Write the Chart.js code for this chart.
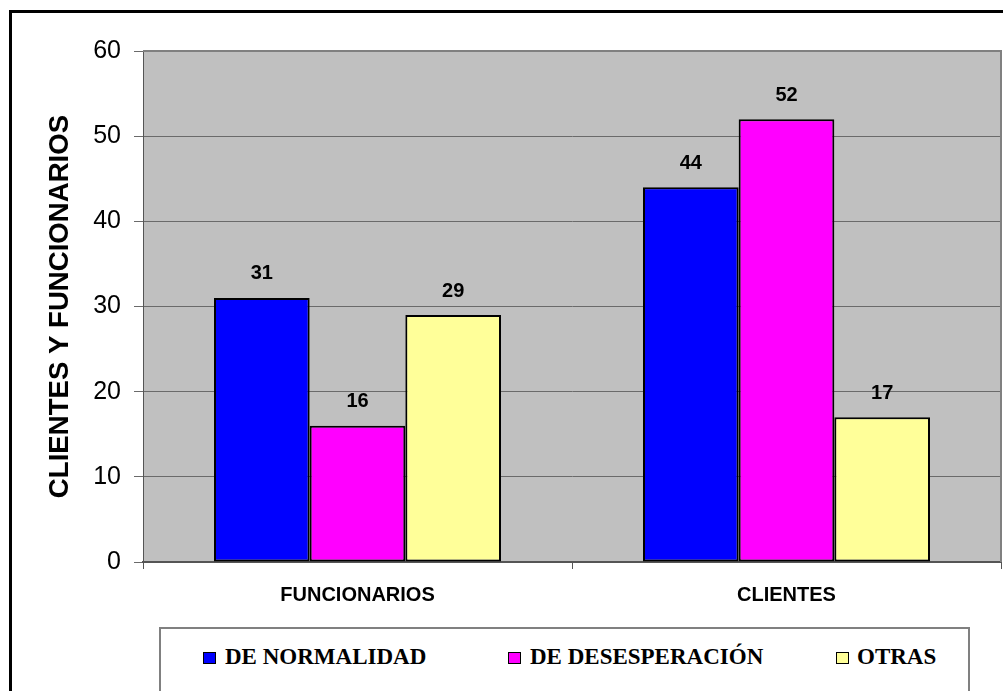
<!DOCTYPE html>
<html>
<head>
<meta charset="utf-8">
<script src="https://cdn.jsdelivr.net/npm/chart.js@4"></script>
<style>
  html, body { margin: 0; padding: 0; background: #fff; overflow: hidden; }
  #wrap { position: relative; width: 1003px; height: 691px; overflow: hidden; }
  #c { position: absolute; left: 0; top: 0; }
  #frame { position: absolute; left: 9px; top: 10px; width: 1100px; height: 800px; border: 3px solid #000; box-sizing: border-box; pointer-events: none; }
  #legend { position: absolute; left: 159px; top: 627px; width: 811px; height: 120px; border: 2px solid #808080; box-sizing: border-box; background: #fff; }
  .sw { position: absolute; top: 652px; width: 13px; height: 12px; border: 1px solid #000; box-sizing: border-box; }
  .lt { position: absolute; top: 645px; font-family: "Liberation Serif", "Times New Roman", serif; font-weight: bold; font-size: 23px; line-height: 23px; white-space: nowrap; color: #000; }
</style>
</head>
<body>
<div id="wrap">
  <canvas id="c" width="1003" height="691"></canvas>
  <div id="frame"></div>
  <div id="legend"></div>
  <div id="legItems"></div>
</div>
<script>
const categories = ["FUNCIONARIOS", "CLIENTES"];
const seriesNames = ["DE NORMALIDAD", "DE DESESPERACIÓN", "OTRAS"];
const normalidad = [31, 44];
const desesperacion = [16, 52];
const otras = [29, 17];
const yTicks = [0, 10, 20, 30, 40, 50, 60];
const yTitle = "CLIENTES Y FUNCIONARIOS";

const colors = ["#0000FF", "#FF00FF", "#FFFF99"];
const seriesValues = [normalidad, desesperacion, otras];

// HTML legend
const legendPos = [{sw: 203, tx: 225}, {sw: 508, tx: 530}, {sw: 836, tx: 857}];
const legItems = document.getElementById('legItems');
seriesNames.forEach((n, i) => {
  const s = document.createElement('div');
  s.className = 'sw';
  s.style.left = legendPos[i].sw + 'px';
  s.style.background = colors[i];
  legItems.appendChild(s);
  const t = document.createElement('div');
  t.className = 'lt';
  t.style.left = legendPos[i].tx + 'px';
  t.textContent = n;
  legItems.appendChild(t);
});

const plotBg = {
  id: 'plotBg',
  beforeDraw(chart) {
    const {ctx, chartArea: a} = chart;
    ctx.save();
    ctx.fillStyle = '#C0C0C0';
    ctx.fillRect(a.left, a.top, a.right - a.left, a.bottom - a.top);
    ctx.restore();
  },
  afterDraw(chart) {
    const {ctx, chartArea: a} = chart;
    ctx.save();
    ctx.strokeStyle = '#808080';
    ctx.lineWidth = 2;
    ctx.beginPath();
    ctx.moveTo(a.left, a.top);
    ctx.lineTo(a.right, a.top);
    ctx.lineTo(a.right, a.bottom);
    ctx.stroke();
    ctx.restore();
  }
};

const dataLabels = {
  id: 'dataLabels',
  afterDatasetsDraw(chart) {
    const {ctx} = chart;
    ctx.save();
    ctx.font = 'bold 20px "Liberation Sans", Arial, sans-serif';
    ctx.fillStyle = '#000';
    ctx.textAlign = 'center';
    ctx.textBaseline = 'middle';
    chart.data.datasets.forEach((ds, di) => {
      const meta = chart.getDatasetMeta(di);
      meta.data.forEach((el, i) => {
        ctx.fillText(String(ds.data[i]), el.x, el.y - 24);
      });
    });
    ctx.restore();
  }
};

Chart.defaults.font.family = '"Liberation Sans", Arial, sans-serif';
Chart.defaults.color = '#000';

new Chart(document.getElementById('c'), {
  type: 'bar',
  data: {
    labels: categories,
    datasets: seriesNames.map((n, i) => ({
      label: n,
      data: seriesValues[i],
      backgroundColor: colors[i],
      borderColor: '#000',
      borderWidth: 2,
      borderSkipped: false,
      barPercentage: 1,
      categoryPercentage: 0.669
    }))
  },
  options: {
    responsive: false,
    animation: false,
    devicePixelRatio: 1,
    layout: { padding: { top: 51, right: 2, left: 0, bottom: 0 } },
    plugins: { legend: { display: false }, tooltip: { enabled: false } },
    scales: {
      x: {
        afterFit(scale) { scale.height = 691 - 562; },
        grid: { display: true, drawOnChartArea: false, drawTicks: true, tickLength: 7, color: '#555', offset: true },
        border: { display: true, color: '#555', width: 2 },
        ticks: { font: { size: 20, weight: 'bold' }, padding: 14, color: '#000' }
      },
      y: {
        min: 0, max: 60,
        afterFit(scale) { scale.width = 143; },
        afterBuildTicks(scale) { scale.ticks = yTicks.map(v => ({value: v})); },
        grid: { color: '#6a6a6a', lineWidth: 1, tickLength: 9, drawTicks: true },
        border: { display: true, color: '#555', width: 1 },
        ticks: { font: { size: 25 }, padding: 13, color: '#000' },
        title: {
          display: true,
          text: yTitle,
          font: { size: 27.6, weight: 'bold', lineHeight: 1.2 },
          padding: { top: 44, bottom: 0 },
          color: '#000'
        }
      }
    }
  },
  plugins: [plotBg, dataLabels]
});
</script>
</body>
</html>
